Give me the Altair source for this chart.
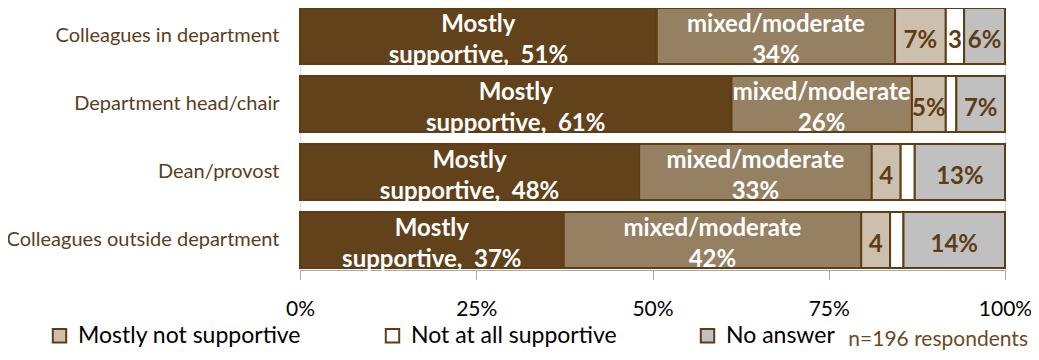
import altair as alt
import pandas as pd

categories = ["Colleagues in department", "Department head/chair",
              "Dean/provost", "Colleagues outside department"]
responses = ["Mostly supportive", "mixed/moderate", "Mostly not supportive",
             "Not at all supportive", "No answer"]

mostly_supportive = [50.6, 61.2, 48.1, 37.4]
mixed_moderate = [33.8, 25.6, 33.0, 42.2]
mostly_not = [7.2, 4.8, 4.1, 4.1]
not_at_all = [2.6, 1.5, 2.0, 1.9]
no_answer = [5.8, 6.9, 12.8, 14.4]

lbl_supportive = ["51%", "61%", "48%", "37%"]
lbl_mixed = ["34%", "26%", "33%", "42%"]
lbl_mostly_not = ["7%", "5%", "4", "4"]
lbl_not_at_all = ["3", "", "", ""]
lbl_no_answer = ["6%", "7%", "13%", "14%"]

note = "n=196 respondents"

colors = ["#62421A", "#958062", "#CDBFAE", "#FFFFFF", "#C0C0C0"]
brown = "#5E3D15"

series = [mostly_supportive, mixed_moderate, mostly_not, not_at_all, no_answer]
top_lines = ["Mostly", "mixed/moderate", "", "", ""]
bottom_lines = [
    ["supportive,\u00a0 " + s for s in lbl_supportive],
    lbl_mixed,
]
single = [None, None, lbl_mostly_not, lbl_not_at_all, lbl_no_answer]

rows = []
for i, cat in enumerate(categories):
    cum = 0.0
    for j, resp in enumerate(responses):
        v = series[j][i]
        rows.append({
            "category": cat, "response": resp, "order": j,
            "start": cum, "end": cum + v, "mid": cum + v / 2,
            "line1": top_lines[j],
            "line2": bottom_lines[j][i] if j < 2 else "",
            "single": single[j][i] if j >= 2 else "",
        })
        cum += v
df = pd.DataFrame(rows)

W, H = 705, 262

y_axis = alt.Axis(domain=False, ticks=False, labelFontSize=20,
                  labelColor="#5B3E1B", labelPadding=21, labelLimit=400,
                  labelFont="Lato")
y_scale = alt.Scale(range=[-6, 266], paddingInner=0.1765, paddingOuter=0.0882)
y_enc = alt.Y("category:N", sort=categories, title=None, scale=y_scale, axis=y_axis)

bars = alt.Chart(df).mark_bar(stroke=brown, strokeWidth=2).encode(
    x=alt.X("start:Q", scale=alt.Scale(domain=[0, 100], nice=False), title=None,
            axis=alt.Axis(values=[0, 25, 50, 75, 100], labelExpr="datum.value + '%'",
                          grid=False, domainColor="#A6A6A6", tickColor="#A6A6A6",
                          tickSize=9, labelFontSize=21, labelColor="#000000",
                          labelPadding=19, labelFont="Lato", labelFlush=False)),
    x2="end:Q",
    y=y_enc,
    color=alt.Color("response:N", sort=responses,
                    scale=alt.Scale(domain=responses, range=colors),
                    legend=alt.Legend(
                        values=["Mostly not supportive", "Not at all supportive", "No answer"],
                        title=None, orient="none", direction="horizontal",
                        legendX=-252, legendY=316, symbolType="square",
                        symbolSize=180, symbolStrokeColor=brown, symbolStrokeWidth=2,
                        labelFontSize=23, labelFont="Lato", labelColor="#000000",
                        labelOffset=7, columnPadding=79, labelLimit=400)),
    order="order:Q",
)

def text_layer(field, dy, color):
    return alt.Chart(df).mark_text(fontWeight="bold", fontSize=24, dy=dy,
                                   font="Lato", color=color).encode(
        x="mid:Q",
        y=alt.Y("category:N", sort=categories),
        text=f"{field}:N",
    )

t1 = text_layer("line1", -11, "#FFFFFF")
t2 = text_layer("line2", 20, "#FFFFFF")
t3 = text_layer("single", 5, brown)

note_layer = alt.Chart(pd.DataFrame({"note": [note]})).mark_text(
    align="right", baseline="middle", fontSize=21, font="Lato", color="#6B4A1F"
).encode(x=alt.value(728), y=alt.value(332), text="note:N")

chart = alt.layer(bars, t1, t2, t3, note_layer).properties(
    width=W, height=H,
    autosize=alt.AutoSizeParams(type="none"),
    padding={"left": 292, "top": 0, "right": 26, "bottom": 82},
).configure_view(stroke=None).configure(font="Lato")

chart.save("out.html", embed_options={"renderer": "svg", "actions": False})
